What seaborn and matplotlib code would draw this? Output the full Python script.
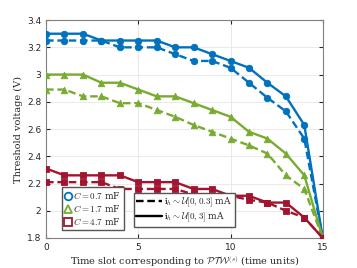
import numpy as np
import pandas as pd
import matplotlib
matplotlib.use("Agg")
import matplotlib.pyplot as plt
import seaborn as sns
from matplotlib.lines import Line2D

slots = list(range(16))

# i_h ~ U[0,3] mA (solid)
blue_solid = [3.30, 3.30, 3.30, 3.25, 3.25, 3.25, 3.25, 3.20, 3.20, 3.15, 3.10, 3.05, 2.94, 2.84, 2.63, 1.80]
green_solid = [3.00, 3.00, 3.00, 2.94, 2.94, 2.89, 2.84, 2.84, 2.79, 2.74, 2.69, 2.58, 2.53, 2.42, 2.26, 1.80]
red_solid = [2.31, 2.26, 2.26, 2.26, 2.26, 2.21, 2.21, 2.21, 2.16, 2.16, 2.11, 2.11, 2.06, 2.06, 1.95, 1.80]

# i_h ~ U[0,0.3] mA (dashed)
blue_dash = [3.25, 3.25, 3.25, 3.25, 3.20, 3.20, 3.20, 3.15, 3.10, 3.10, 3.05, 2.94, 2.83, 2.73, 2.53, 1.80]
green_dash = [2.89, 2.89, 2.84, 2.84, 2.79, 2.79, 2.74, 2.69, 2.63, 2.58, 2.53, 2.48, 2.42, 2.26, 2.16, 1.80]
red_dash = [2.21, 2.21, 2.21, 2.21, 2.16, 2.16, 2.16, 2.16, 2.12, 2.11, 2.11, 2.08, 2.06, 2.00, 1.95, 1.80]

cap_labels = ["0.7", "1.7", "4.7"]
colors = ["#0072BD", "#77AC30", "#A2142F"]
markers = ["o", "^", "s"]

rows = []
for cap, solid, dash in zip(cap_labels, [blue_solid, green_solid, red_solid], [blue_dash, green_dash, red_dash]):
    for s, v in zip(slots, solid):
        rows.append({"slot": s, "voltage": v, "C": cap, "current": "U[0,3]"})
    for s, v in zip(slots, dash):
        rows.append({"slot": s, "voltage": v, "C": cap, "current": "U[0,0.3]"})
df = pd.DataFrame(rows)

sns.set_style("whitegrid")
plt.rcParams["mathtext.fontset"] = "cm"
plt.rcParams["font.family"] = ["DejaVu Sans"]

fig = plt.figure(figsize=(3.57, 2.68), dpi=100)
ax = fig.add_axes([0.129, 0.112, 0.775, 0.813])

dash_style = (0, (3.2, 1.6))
for cap, col, mk in zip(cap_labels, colors, markers):
    sub = df[df["C"] == cap]
    for cur, ls in [("U[0,3]", "-"), ("U[0,0.3]", dash_style)]:
        d = sub[sub["current"] == cur]
        sns.lineplot(data=d, x="slot", y="voltage", ax=ax, color=col,
                     linewidth=1.7, linestyle=ls, legend=False)
        sns.scatterplot(data=d, x="slot", y="voltage", ax=ax, color=col, marker=mk,
                        s=22, edgecolor=col, linewidth=0.6, legend=False, zorder=3)

ax.set_xlim(0, 15)
ax.set_ylim(1.8, 3.4)
ax.set_xticks([0, 5, 10, 15])
ax.set_yticks([1.8, 2.0, 2.2, 2.4, 2.6, 2.8, 3.0, 3.2, 3.4])
ax.set_yticklabels(["1.8", "2", "2.2", "2.4", "2.6", "2.8", "3", "3.2", "3.4"])
ax.tick_params(labelsize=6.5, colors="#262626", direction="in", length=3, left=True, bottom=True, top=True, right=True)
ax.grid(True, color="#e6e6e6", linewidth=0.6)
for sp in ax.spines.values():
    sp.set_edgecolor("#808080")
    sp.set_linewidth(0.8)

ax.set_xlabel(r"Time slot corresponding to $\mathcal{PTW}^{(s)}$ (time units)",
              family="serif", fontsize=7, labelpad=2)
ax.set_ylabel("Threshold voltage (V)", family="serif", fontsize=7, labelpad=3)

cap_handles = [Line2D([], [], color=c, marker=m, linestyle="none", markersize=5.5,
                      markerfacecolor="white", markeredgewidth=1.3)
               for c, m in zip(colors, markers)]
leg1 = ax.legend(cap_handles, [r"$C = %s$ mF" % c for c in cap_labels],
                 loc="lower left", bbox_to_anchor=(0.04, 0.015),
                 handlelength=0.8, handletextpad=0.2, borderpad=0.3, labelspacing=0.25,
                 frameon=True, fancybox=False, edgecolor="#555555", framealpha=1,
                 prop={"family": "serif", "size": 6.5})
ax.add_artist(leg1)

cur_handles = [Line2D([], [], color="black", linestyle=dash_style, linewidth=1.7),
               Line2D([], [], color="black", linestyle="-", linewidth=1.7)]
leg2 = ax.legend(cur_handles, [r"$\mathbf{i}_{h} \sim \mathcal{U}[0, 0.3]$ mA",
                               r"$\mathbf{i}_{h} \sim \mathcal{U}[0, 3]$ mA"],
                 loc="lower left", bbox_to_anchor=(0.30, 0.03),
                 handlelength=2.8, handletextpad=0.3, borderpad=0.3, labelspacing=0.25,
                 frameon=True, fancybox=False, edgecolor="#555555", framealpha=1,
                 prop={"family": "serif", "size": 6.5})

fig.savefig("out.png", dpi=100)
